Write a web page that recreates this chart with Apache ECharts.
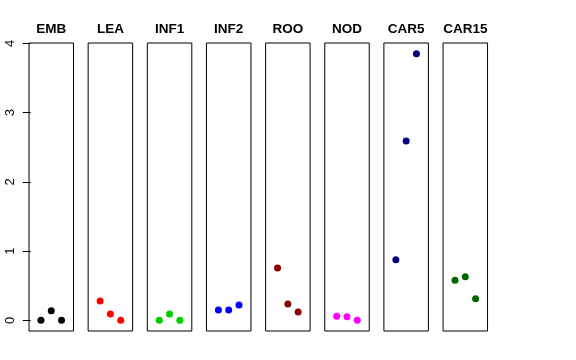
<!DOCTYPE html>
<html>
<head>
<meta charset="utf-8">
<script src="https://cdn.jsdelivr.net/npm/echarts@6/dist/echarts.min.js"></script>
<style>html,body{margin:0;padding:0;background:#fff}#c{width:576px;height:360px}</style>
</head>
<body>
<div id="c"></div>
<script>
const panels = ['EMB', 'LEA', 'INF1', 'INF2', 'ROO', 'NOD', 'CAR5', 'CAR15'];
const colors = ['#000000', '#FF0000', '#00CD00', '#0000FF', '#8B0000', '#FF00FF', '#000080', '#006400'];
const xPos = [1, 2, 3];
const vEMB = [0.00, 0.14, 0.00];
const vLEA = [0.28, 0.09, 0.00];
const vINF1 = [0.00, 0.09, 0.00];
const vINF2 = [0.15, 0.15, 0.22];
const vROO = [0.755, 0.235, 0.12];
const vNOD = [0.06, 0.05, 0.00];
const vCAR5 = [0.875, 2.59, 3.85];
const vCAR15 = [0.58, 0.63, 0.31];
const yTicks = [0, 1, 2, 3, 4];
const values = [vEMB, vLEA, vINF1, vINF2, vROO, vNOD, vCAR5, vCAR15];

(function () {
  const left0 = 29, step = 59.15, pw = 44.5, ptop = 43, ph = 288;
  const grids = [], xAxes = [], yAxes = [], series = [], titles = [];
  panels.forEach((p, i) => {
    const l = left0 + i * step;
    grids.push({left: l, top: ptop, width: pw, height: ph, show: true, borderColor: '#000', borderWidth: 1, backgroundColor: 'transparent', containLabel: false});
    xAxes.push({gridIndex: i, type: 'value', min: -0.16, max: 4.16, show: false});
    yAxes.push({
      gridIndex: i, type: 'value', min: -0.154, max: 4.004, show: i === 0,
      axisLine: {show: false}, splitLine: {show: false},
      axisTick: {show: i === 0, length: 8, customValues: yTicks, lineStyle: {color: '#000'}},
      axisLabel: {show: i === 0, customValues: yTicks, rotate: 90, margin: 12, fontSize: 13, color: '#000', fontFamily: 'Liberation Sans, Arial, sans-serif'}
    });
    series.push({
      type: 'scatter', xAxisIndex: i, yAxisIndex: i, symbol: 'circle', symbolSize: 7,
      itemStyle: {color: colors[i], opacity: 1},
      data: xPos.map((x, j) => [x, values[i][j]])
    });
    titles.push({text: p, left: l + pw / 2, top: 22, textAlign: 'center', padding: 0,
      textStyle: {fontSize: 13.5, fontWeight: 'bold', color: '#000', fontFamily: 'Liberation Sans, Arial, sans-serif'}});
  });

  const chart = echarts.init(document.getElementById('c'), null, {renderer: 'canvas'});
  chart.setOption({animation: false, title: titles, grid: grids, xAxis: xAxes, yAxis: yAxes, series: series});
})();
</script>
</body>
</html>
